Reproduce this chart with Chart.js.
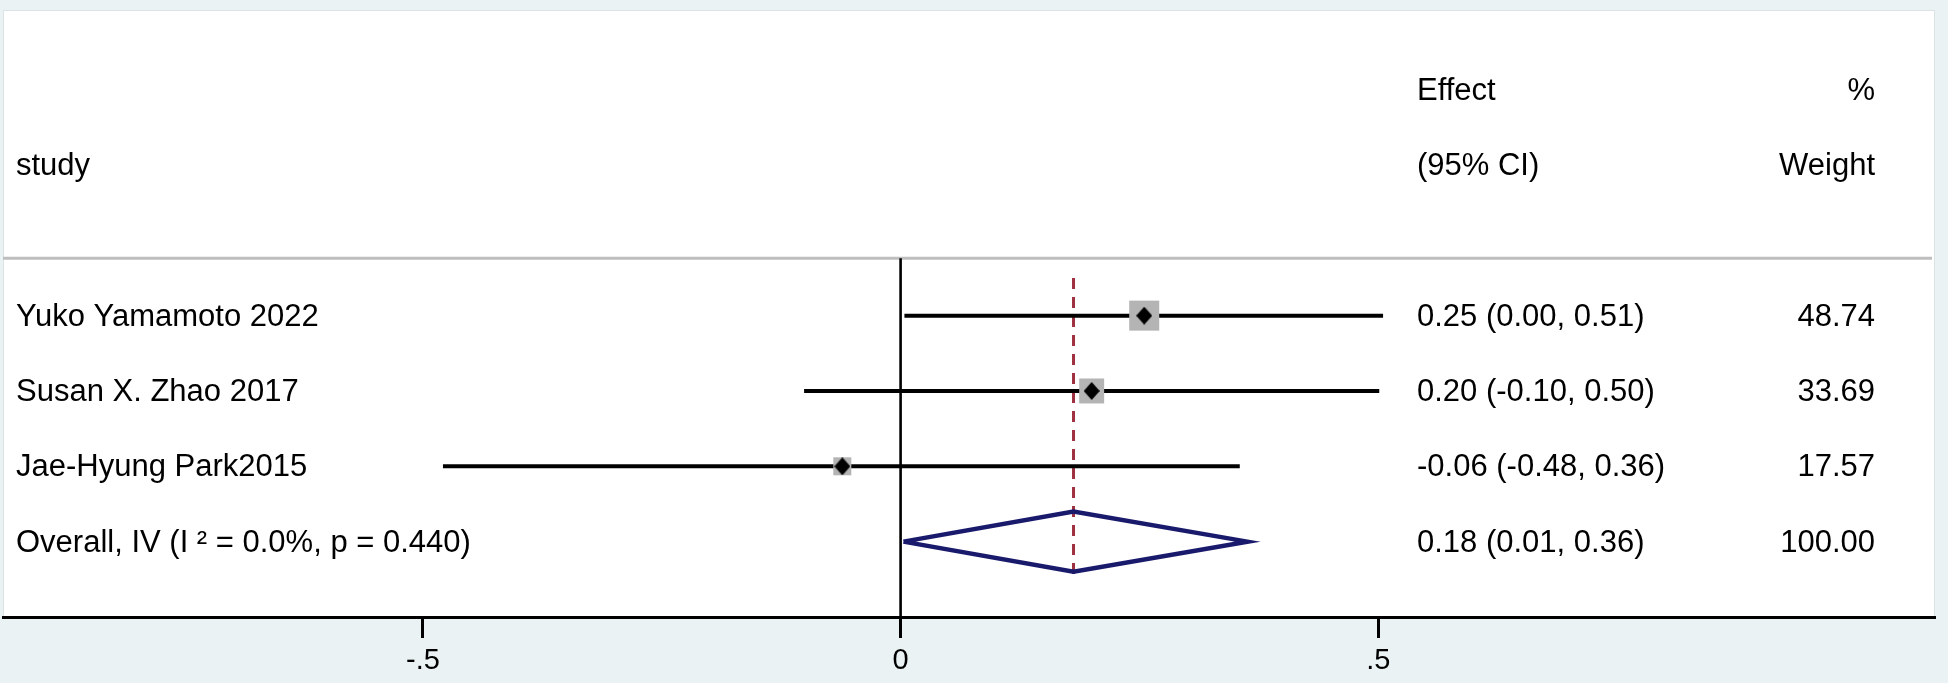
<!DOCTYPE html>
<html>
<head>
<meta charset="utf-8">
<script src="https://cdn.jsdelivr.net/npm/chart.js@4.4.1/dist/chart.umd.min.js"></script>
<style>
  html, body { margin: 0; padding: 0; background: #eaf2f3; }
  canvas { display: block; }
</style>
</head>
<body>
<canvas id="forest" width="1948" height="683"></canvas>
<script>
(() => {
  'use strict'

  // Values
  const studies = ['Yuko Yamamoto 2022', 'Susan X. Zhao 2017', 'Jae-Hyung Park2015']
  const estimates = [0.255, 0.200, -0.061]
  const lowerCI = [0.004, -0.101, -0.479]
  const upperCI = [0.505, 0.501, 0.355]
  const weights = [48.74, 33.69, 17.57]
  const effectLabels = ['0.25 (0.00, 0.51)', '0.20 (-0.10, 0.50)', '-0.06 (-0.48, 0.36)']
  const weightLabels = ['48.74', '33.69', '17.57']

  const overallLabel = 'Overall, IV (I ² = 0.0%, p = 0.440)'
  const overallEstimate = 0.181
  const overallLower = 0.003
  const overallUpper = 0.363
  const overallEffectLabel = '0.18 (0.01, 0.36)'
  const overallWeightLabel = '100.00'

  const headerLeft = ['', 'study']
  const headerEffect = ['Effect', '(95% CI)']
  const headerWeight = ['%', 'Weight']

  const xTicks = [-0.5, 0, 0.5]

  // axis range and row layout
  const xMin = -0.9395
  const xMax = 1.0827
  const yMin = -3.03
  const yMax = 5
  const overallRow = studies.length + 1
  const separatorRow = 0.24
  const diamondHalf = 0.4

  const FONT = '"Liberation Sans", Arial, Helvetica, sans-serif'

  // small black diamond used as point marker
  const marker = document.createElement('canvas')
  marker.width = 16
  marker.height = 18
  const m = marker.getContext('2d')
  m.fillStyle = '#000'
  m.beginPath()
  m.moveTo(8, 0)
  m.lineTo(16, 9)
  m.lineTo(8, 18)
  m.lineTo(0, 9)
  m.closePath()
  m.fill()

  const points = estimates.map((v, i) => ({ x: v, y: i + 1 }))

  const ciLines = studies.map((s, i) => ({
    type: 'line',
    label: s,
    data: [{ x: lowerCI[i], y: i + 1 }, { x: upperCI[i], y: i + 1 }],
    borderColor: '#000',
    borderWidth: 4,
    pointRadius: 0,
    order: 2
  }))

  const textColumns = {
    id: 'textColumns',
    beforeDraw(chart) {
      const { ctx, chartArea } = chart
      ctx.save()
      ctx.fillStyle = '#eaf2f3'
      ctx.fillRect(0, 0, chart.width, chart.height)
      ctx.fillStyle = '#fff'
      ctx.fillRect(chartArea.left, chartArea.top - 2, chartArea.right - chartArea.left, chartArea.bottom - chartArea.top + 2)
      ctx.strokeStyle = '#dbe3e4'
      ctx.lineWidth = 1
      ctx.strokeRect(chartArea.left + 0.5, chartArea.top - 1.5, chartArea.right - chartArea.left - 1, chartArea.bottom - chartArea.top + 1)
      ctx.restore()
    },
    beforeDatasetsDraw(chart) {
      const { ctx, chartArea } = chart
      const y = chart.scales.y.getPixelForValue(separatorRow)
      ctx.save()
      ctx.strokeStyle = '#bebebe'
      ctx.lineWidth = 3
      ctx.beginPath()
      ctx.moveTo(chartArea.left, y)
      ctx.lineTo(chartArea.right - 3, y)
      ctx.stroke()
      ctx.restore()
    },
    afterDraw(chart) {
      const { ctx } = chart
      const ys = chart.scales.y
      const labelX = 16
      const effectX = 1417
      const weightX = 1875
      ctx.save()
      ctx.font = '31px ' + FONT
      ctx.fillStyle = '#000'
      ctx.textBaseline = 'middle'

      const rows = [
        [-2, headerLeft[0], headerEffect[0], headerWeight[0]],
        [-1, headerLeft[1], headerEffect[1], headerWeight[1]]
      ]
      studies.forEach((s, i) => rows.push([i + 1, s, effectLabels[i], weightLabels[i]]))
      rows.push([overallRow, overallLabel, overallEffectLabel, overallWeightLabel])

      rows.forEach(([row, label, effect, weight]) => {
        const y = ys.getPixelForValue(row) + 1.5
        ctx.textAlign = 'left'
        ctx.fillText(label, labelX, y)
        ctx.fillText(effect, effectX, y)
        ctx.textAlign = 'right'
        ctx.fillText(weight, weightX, y)
      })
      ctx.restore()
    }
  }

  // eslint-disable-next-line no-unused-vars
  const forest = new Chart(document.getElementById('forest'), {
    type: 'scatter',
    data: {
      datasets: [
        {
          label: 'estimate',
          data: points,
          pointStyle: marker,
          pointRadius: 8,
          order: 0
        },
        {
          label: 'weight box',
          data: points,
          pointStyle: 'rect',
          pointRadius: ctx => 4.3 * Math.sqrt(weights[ctx.dataIndex]) / Math.SQRT2,
          backgroundColor: '#b4b4b4',
          borderWidth: 0,
          order: 1
        },
        ...ciLines,
        {
          type: 'line',
          label: 'overall',
          data: [
            { x: overallLower, y: overallRow },
            { x: overallEstimate, y: overallRow - diamondHalf },
            { x: overallUpper, y: overallRow },
            { x: overallEstimate, y: overallRow + diamondHalf },
            { x: overallLower, y: overallRow }
          ],
          borderColor: '#191a6c',
          borderWidth: 4.5,
          borderJoinStyle: 'miter',
          fill: false,
          pointRadius: 0,
          tension: 0,
          order: 3
        },
        {
          type: 'line',
          label: 'overall effect',
          data: [{ x: overallEstimate, y: 0.5 }, { x: overallEstimate, y: overallRow + 0.5 }],
          borderColor: '#9e3040',
          borderWidth: 3,
          borderDash: [11, 8],
          pointRadius: 0,
          order: 4
        },
        {
          type: 'line',
          label: 'no effect',
          data: [{ x: 0, y: separatorRow }, { x: 0, y: yMax }],
          borderColor: '#000',
          borderWidth: 2.6,
          pointRadius: 0,
          order: 5
        }
      ]
    },
    options: {
      responsive: false,
      animation: false,
      layout: { autoPadding: false, padding: { left: 3, right: 13, top: 12, bottom: 0 } },
      plugins: {
        legend: { display: false },
        tooltip: { enabled: false }
      },
      scales: {
        x: {
          type: 'linear',
          min: xMin,
          max: xMax,
          offset: false,
          afterBuildTicks: s => { s.ticks = xTicks.map(v => ({ value: v })) },
          afterFit: s => { s.height = 66 },
          border: { display: true, color: '#000', width: 3 },
          grid: {
            offset: false,
            drawOnChartArea: false,
            drawTicks: true,
            tickLength: 21,
            tickWidth: 3,
            tickColor: '#000'
          },
          ticks: {
            color: '#000',
            font: { family: FONT, size: 29 },
            padding: 6,
            maxRotation: 0,
            autoSkip: false,
            callback: v => v === 0 ? '0' : String(v).replace('0.', '.')
          }
        },
        y: {
          type: 'linear',
          min: yMin,
          max: yMax,
          offset: false,
          reverse: true,
          display: false
        }
      }
    },
    plugins: [textColumns]
  })
})()
</script>
</body>
</html>
